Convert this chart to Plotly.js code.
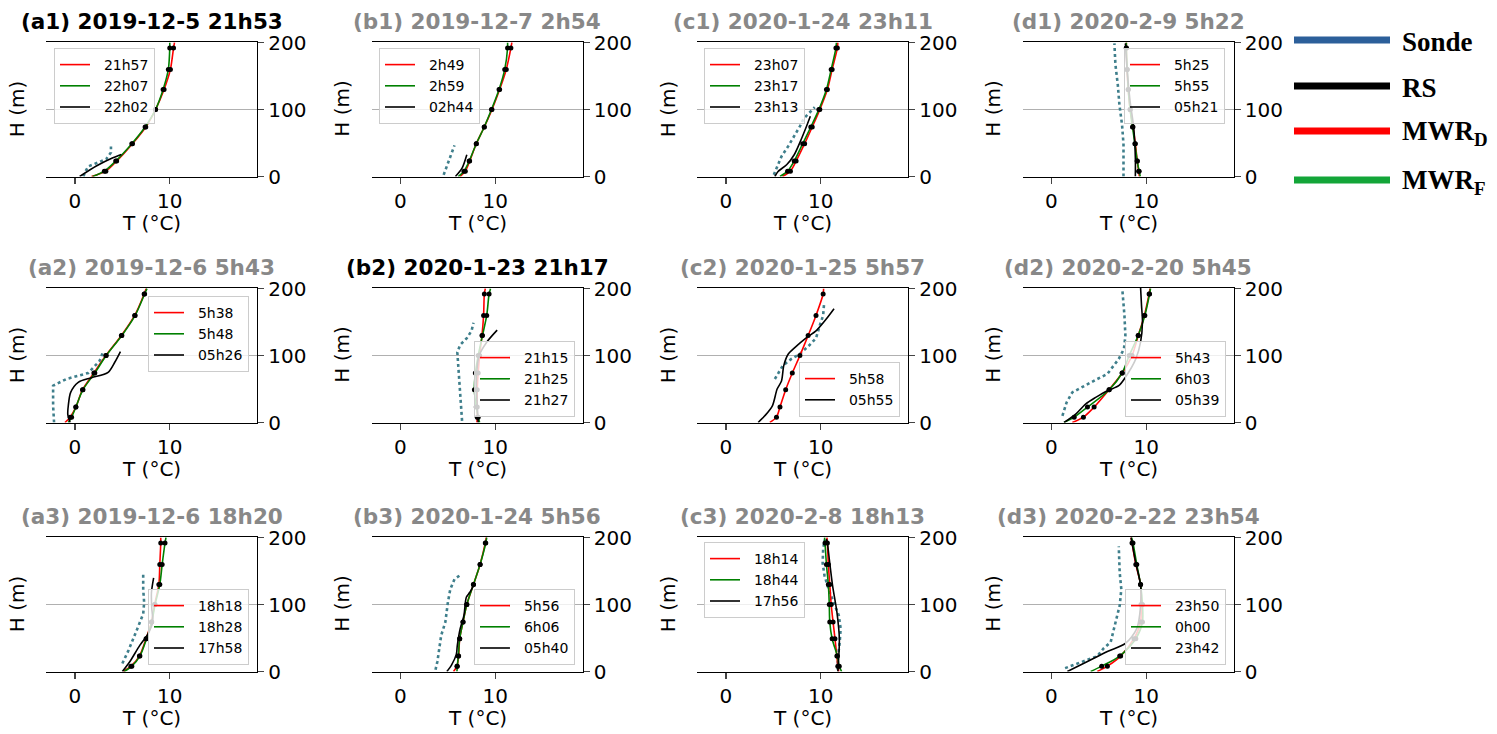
<!DOCTYPE html>
<html><head><meta charset="utf-8">
<script src="https://cdn.plot.ly/plotly-3.0.1.min.js"></script>
<style>html,body{margin:0;padding:0;background:#fff;} #chart{width:1497px;height:734px;}</style>
</head><body><div id="chart"></div>
<script>
// ---------------- DATA ----------------
const H_MWR = [0, 8, 23, 49, 74, 100, 130, 160, 192, 200];

const a1_title = "(a1) 2019-12-5 21h53";
const a1_labels = ["21h57", "22h07", "22h02"];
const a1_mwrD = [1.75, 3.26, 4.4, 6.07, 7.47, 8.5, 9.4, 10.07, 10.4, 10.5];
const a1_mwrF = [1.86, 3.1, 4.3, 6.0, 7.4, 8.5, 9.3, 9.85, 10.0, 10.0];
const a1_rsT = [0.5, 2.3, 4.0, 4.9];
const a1_rsH = [0, 16, 28, 33];
const a1_sondeT = [0.9, 1.05, 1.4, 3.3, 3.8, 3.8];
const a1_sondeH = [0, 6, 15, 26, 36, 45];

const b1_title = "(b1) 2019-12-7 2h54";
const b1_labels = ["2h49", "2h59", "02h44"];
const b1_mwrD = [6.3, 6.84, 7.3, 8.0, 8.84, 9.65, 10.46, 11.16, 11.65, 11.75];
const b1_mwrF = [6.1, 6.7, 7.25, 8.0, 8.84, 9.6, 10.4, 11.0, 11.3, 11.3];
const b1_rsT = [5.8, 6.5, 7.0];
const b1_rsH = [0, 12.5, 32.5];
const b1_sondeT = [4.56, 5.1, 5.4, 5.7];
const b1_sondeH = [2.5, 22.5, 35, 46.5];

const c1_title = "(c1) 2020-1-24 23h11";
const c1_labels = ["23h07", "23h17", "23h13"];
const c1_mwrD = [5.96, 6.8, 7.4, 8.3, 9.1, 9.9, 10.7, 11.2, 11.75, 11.8];
const c1_mwrF = [5.7, 6.5, 7.2, 8.1, 8.95, 9.8, 10.6, 11.1, 11.6, 11.65];
const c1_rsT = [5.16, 5.5, 6.4, 7.2, 8.0, 8.5, 8.9];
const c1_rsH = [0, 7.5, 17.5, 32.5, 57.5, 75, 90];
const c1_sondeT = [5.05, 5.4, 5.86, 6.56, 7.44, 7.8, 8.2, 9.37];
const c1_sondeH = [2.5, 15, 30, 45, 65, 75, 86.5, 103.5];

const d1_title = "(d1) 2020-2-9 5h22";
const d1_labels = ["5h25", "5h55", "05h21"];
const d1_mwrD = [9.27, 9.2, 9.05, 8.85, 8.6, 8.3, 8.1, 7.97, 7.9, 7.9];
const d1_mwrF = [9.37, 9.25, 9.05, 8.8, 8.55, 8.3, 8.1, 8.0, 7.9, 7.9];
const d1_rsT = [8.85, 8.85, 8.67, 8.3, 7.97, 7.8];
const d1_rsH = [0, 28, 74, 112, 162, 199];
const d1_sondeT = [7.6, 7.6, 7.45, 7.17, 7.0, 6.75, 6.64];
const d1_sondeH = [0, 48, 77, 107, 137, 167, 199];

const a2_title = "(a2) 2019-12-6 5h43";
const a2_labels = ["5h38", "5h48", "05h26"];
const a2_mwrD = [-1.05, -0.5, 0.1, 0.8, 2.0, 3.26, 4.9, 6.3, 7.3, 7.5];
const a2_mwrF = [-0.7, -0.35, 0.1, 0.85, 2.1, 3.3, 4.95, 6.35, 7.35, 7.6];
const a2_rsT = [-0.5, -0.75, -0.7, -0.45, 0.35, 1.75, 3.5, 4.2, 4.8];
const a2_rsH = [0, 12, 25, 45, 60, 67, 75, 90, 106];
const a2_sondeT = [-2.2, -2.3, -2.3, -0.9, 1.4, 2.6, 3.0];
const a2_sondeH = [0, 25, 55, 65, 74, 92, 107];

const b2_title = "(b2) 2020-1-23 21h17";
const b2_labels = ["21h15", "21h25", "21h27"];
const b2_mwrD = [8.07, 8.1, 8.1, 8.1, 8.2, 8.35, 8.6, 8.77, 8.85, 8.95];
const b2_mwrF = [8.35, 8.2, 8.0, 7.8, 7.9, 8.2, 8.65, 9.1, 9.35, 9.5];
const b2_rsT = [8.2, 8.1, 8.0, 8.3, 9.1, 10.2];
const b2_rsH = [0, 25, 60, 100, 120, 138];
const b2_sondeT = [6.5, 6.4, 6.25, 6.14, 6.0, 6.3, 7.0, 7.5, 7.7];
const b2_sondeH = [2.5, 25, 55, 80, 105, 116, 126, 137, 149];

const c2_title = "(c2) 2020-1-25 5h57";
const c2_labels = ["5h58", null, "05h55"];
const c2_mwrD = [4.63, 5.33, 5.7, 6.3, 7.0, 7.8, 8.67, 9.5, 10.25, 10.3];
const c2_mwrF = null;
const c2_rsT = [3.4, 4.1, 4.9, 5.4, 5.86, 6.1, 6.56, 7.26, 8.5, 9.5, 10.6, 11.4];
const c2_rsH = [0, 10, 25, 50, 62, 85, 102, 112, 127, 137, 155, 170];
const c2_sondeT = [5.16, 5.6, 6.0, 6.9, 7.8, 8.77, 9.5, 9.9, 10.25, 10.35];
const c2_sondeH = [65, 76, 85, 95, 102.5, 115, 126, 145, 160, 177.5];

const d2_title = "(d2) 2020-2-20 5h45";
const d2_labels = ["5h43", "6h03", "05h39"];
const d2_mwrD = [2.2, 3.37, 4.5, 6.07, 7.47, 8.5, 9.16, 9.8, 10.3, 10.4];
const d2_mwrF = [1.33, 2.4, 3.8, 6.1, 7.45, 8.2, 9.15, 9.85, 10.35, 10.45];
const d2_rsT = [1.33, 2.56, 3.6, 4.67, 5.9, 7.1, 7.8, 8.9, 9.4, 9.6, 9.5, 9.4];
const d2_rsH = [0, 12.5, 27.5, 37.5, 47.5, 55, 67.5, 95, 120, 150, 175, 202];
const d2_sondeT = [1.16, 1.6, 2.2, 3.44, 4.84, 5.9, 6.6, 7.1, 7.65, 7.8, 7.7, 7.54, 7.47];
const d2_sondeH = [10, 30, 45, 55, 65, 72.5, 85, 95, 110, 130, 160, 185, 200];

const a3_title = "(a3) 2019-12-6 18h20";
const a3_labels = ["18h18", "18h28", "17h58"];
const a3_mwrD = [5.1, 5.9, 6.8, 7.5, 8.07, 8.4, 8.85, 8.95, 9.05, 9.05];
const a3_mwrF = [5.2, 6.0, 6.85, 7.55, 8.1, 8.45, 8.95, 9.2, 9.5, 9.6];
const a3_rsT = [5.0, 5.8, 6.84, 7.7, 8.2, 8.1, 8.07, 8.3];
const a3_rsH = [0, 15, 39, 56, 74, 95, 118, 140];
const a3_sondeT = [5.0, 5.6, 6.3, 6.84, 7.2, 7.3, 7.2, 7.2];
const a3_sondeH = [12, 30, 54, 74, 86, 103, 123, 145];

const b3_title = "(b3) 2020-1-24 5h56";
const b3_labels = ["5h56", "6h06", "05h40"];
const b3_mwrD = [5.6, 5.96, 6.14, 6.25, 6.6, 7.0, 7.7, 8.4, 8.95, 9.05];
const b3_mwrF = [5.96, 6.0, 6.1, 6.25, 6.6, 7.0, 7.7, 8.4, 9.0, 9.1];
const b3_rsT = [4.9, 5.4, 5.9, 6.0, 6.3, 6.7, 6.95, 7.3, 7.7];
const b3_rsH = [0, 10, 26, 39, 64, 84, 111, 118, 128];
const b3_sondeT = [3.7, 3.9, 4.3, 4.74, 5.0, 5.26, 5.7, 6.3];
const b3_sondeH = [2.5, 15, 54, 74, 103, 123, 138, 144];

const c3_title = "(c3) 2020-2-8 18h13";
const c3_labels = ["18h14", "18h44", "17h56"];
const c3_mwrD = [11.9, 11.8, 11.7, 11.5, 11.3, 11.1, 10.95, 10.8, 10.7, 10.65];
const c3_mwrF = [12.2, 11.95, 11.75, 11.2, 10.95, 10.9, 10.8, 10.6, 10.45, 10.4];
const c3_rsT = [11.8, 11.96, 11.7, 11.25, 10.95, 10.7, 10.6];
const c3_rsH = [0, 49, 89, 128, 162, 192, 198];
const c3_sondeT = [11.8, 11.8, 12.0, 12.1, 11.9, 10.95, 10.4, 10.2, 10.25, 10.4];
const c3_sondeH = [2.5, 20, 44, 64, 84, 118, 143, 162, 182, 197];

const d3_title = "(d3) 2020-2-22 23h54";
const d3_labels = ["23h50", "0h00", "23h42"];
const d3_mwrD = [4.84, 5.9, 7.3, 8.7, 9.4, 9.45, 9.4, 8.9, 8.5, 8.4];
const d3_mwrF = [4.14, 5.3, 7.2, 8.9, 9.6, 9.6, 9.4, 9.0, 8.6, 8.46];
const d3_rsT = [1.68, 3.8, 5.9, 7.8, 9.0, 9.4, 9.4, 8.9, 8.5, 8.4];
const d3_rsH = [0, 15, 30, 42, 64, 98, 129, 162, 192, 200];
const d3_sondeT = [1.44, 3.44, 4.84, 5.5, 6.25, 6.77, 7.2, 7.37, 7.2, 7.1];
const d3_sondeH = [5, 15, 23, 34.5, 44, 74, 98.5, 123, 148, 187];

const highlightedTitles = ["a1", "b2"];
const xTicks = [0, 10];
const yTicks = [0, 100, 200];
const legendNames = ["Sonde", "RS", "MWR<sub>D</sub>", "MWR<sub>F</sub>"];

// ---------------- PANEL TABLE ----------------
const panels = [
  {id:"a1", title:a1_title, labels:a1_labels, d:a1_mwrD, f:a1_mwrF, rsT:a1_rsT, rsH:a1_rsH, sT:a1_sondeT, sH:a1_sondeH},
  {id:"b1", title:b1_title, labels:b1_labels, d:b1_mwrD, f:b1_mwrF, rsT:b1_rsT, rsH:b1_rsH, sT:b1_sondeT, sH:b1_sondeH},
  {id:"c1", title:c1_title, labels:c1_labels, d:c1_mwrD, f:c1_mwrF, rsT:c1_rsT, rsH:c1_rsH, sT:c1_sondeT, sH:c1_sondeH},
  {id:"d1", title:d1_title, labels:d1_labels, d:d1_mwrD, f:d1_mwrF, rsT:d1_rsT, rsH:d1_rsH, sT:d1_sondeT, sH:d1_sondeH},
  {id:"a2", title:a2_title, labels:a2_labels, d:a2_mwrD, f:a2_mwrF, rsT:a2_rsT, rsH:a2_rsH, sT:a2_sondeT, sH:a2_sondeH},
  {id:"b2", title:b2_title, labels:b2_labels, d:b2_mwrD, f:b2_mwrF, rsT:b2_rsT, rsH:b2_rsH, sT:b2_sondeT, sH:b2_sondeH},
  {id:"c2", title:c2_title, labels:c2_labels, d:c2_mwrD, f:c2_mwrF, rsT:c2_rsT, rsH:c2_rsH, sT:c2_sondeT, sH:c2_sondeH},
  {id:"d2", title:d2_title, labels:d2_labels, d:d2_mwrD, f:d2_mwrF, rsT:d2_rsT, rsH:d2_rsH, sT:d2_sondeT, sH:d2_sondeH},
  {id:"a3", title:a3_title, labels:a3_labels, d:a3_mwrD, f:a3_mwrF, rsT:a3_rsT, rsH:a3_rsH, sT:a3_sondeT, sH:a3_sondeH},
  {id:"b3", title:b3_title, labels:b3_labels, d:b3_mwrD, f:b3_mwrF, rsT:b3_rsT, rsH:b3_rsH, sT:b3_sondeT, sH:b3_sondeH},
  {id:"c3", title:c3_title, labels:c3_labels, d:c3_mwrD, f:c3_mwrF, rsT:c3_rsT, rsH:c3_rsH, sT:c3_sondeT, sH:c3_sondeH},
  {id:"d3", title:d3_title, labels:d3_labels, d:d3_mwrD, f:d3_mwrF, rsT:d3_rsT, rsH:d3_rsH, sT:d3_sondeT, sH:d3_sondeH}
];

// ---------------- LAYOUT GEOMETRY (pixels) ----------------
const W = 1497, HT = 734;
const colLeft = [46, 371.5, 697, 1022.5], colW = 211;
const rowTop = [42, 288, 537], rowH = 134.5;
const px = x => x / W, py = y => 1 - y / HT;
// legend placement: [x px, y px, xanchor, yanchor]
const legendPlace = {
  a1:[54,48,"left","top"], b1:[379,48,"left","top"], c1:[704,48,"left","top"], d1:[1225,48,"right","top"],
  a2:[249,296,"right","top"], b2:[575,417,"right","bottom"], c2:[900,417,"right","bottom"], d2:[1226,417,"right","bottom"],
  a3:[249,665,"right","bottom"], b3:[575,665,"right","bottom"], c3:[704,542,"left","top"], d3:[1226,665,"right","bottom"]
};

const FONT = "DejaVu Sans, sans-serif";
const NB = "\u00a0\u00a0";
const data = [];
const layout = {
  width: W, height: HT, margin:{l:0,r:0,t:0,b:0},
  paper_bgcolor:"#fff", plot_bgcolor:"#fff",
  font:{family:FONT, size:20, color:"#000"},
  showlegend:true, annotations:[], shapes:[]
};

panels.forEach((p, k) => {
  const n = k + 1, sfx = n === 1 ? "" : String(n);
  const col = k % 4, row = Math.floor(k / 4);
  const xa = "x" + sfx, ya = "y" + sfx;
  const legId = "legend" + sfx;
  const L = colLeft[col], T = rowTop[row];

  // sonde
  data.push({x:p.sT, y:p.sH, xaxis:xa, yaxis:ya, mode:"lines", showlegend:false,
    line:{color:"#3f7f8c", width:2.6, dash:"dot"}, hoverinfo:"skip"});
  // MWR D
  data.push({x:p.d, y:H_MWR, xaxis:xa, yaxis:ya, mode:"lines", name:NB + p.labels[0], legend:legId,
    line:{color:"#ff0000", width:1.6, shape:"spline", smoothing:0.8}});
  // MWR F
  if (p.f) data.push({x:p.f, y:H_MWR, xaxis:xa, yaxis:ya, mode:"lines", name:NB + p.labels[1], legend:legId,
    line:{color:"#008000", width:1.6, shape:"spline", smoothing:0.8}});
  // RS
  data.push({x:p.rsT, y:p.rsH, xaxis:xa, yaxis:ya, mode:"lines", name:NB + p.labels[2], legend:legId,
    line:{color:"#000", width:1.6, shape:"spline", smoothing:0.8}});
  // MWR level dots
  const dx = p.d.slice(1, -1).concat(p.f ? p.f.slice(1, -1) : []);
  const dy = H_MWR.slice(1, -1).concat(p.f ? H_MWR.slice(1, -1) : []);
  data.push({x:dx, y:dy, xaxis:xa, yaxis:ya, mode:"markers", showlegend:false,
    marker:{color:"#000", size:5}, hoverinfo:"skip"});

  layout["xaxis" + sfx] = {
    domain:[px(L), px(L + colW)], anchor:ya, range:[-3.05, 19.2],
    tickvals:xTicks, ticktext:xTicks.map(String), ticks:"outside", ticklen:6, tickwidth:1.2,
    showline:true, mirror:true, linecolor:"#000", linewidth:1.2,
    showgrid:false, zeroline:false, tickfont:{size:20, color:"#000"}, fixedrange:true
  };
  layout["yaxis" + sfx] = {
    domain:[py(T + rowH), py(T)], anchor:xa, side:"right", range:[0, 201],
    tickvals:yTicks, ticktext:yTicks.map(String), ticks:"outside", ticklen:6, tickwidth:1.2,
    showline:true, linecolor:"#000", linewidth:1.2,
    showgrid:true, gridcolor:"#b0b0b0", gridwidth:1, zeroline:false,
    tickfont:{size:20, color:"#000"}, fixedrange:true
  };
  const minorVals = []; for (let h = 0; h <= 200; h += 10) minorVals.push(h);
  layout["yaxis" + (12 + n)] = {
    overlaying:ya, anchor:xa, side:"left", range:[0, 201],
    tickvals:minorVals, ticks:"outside", ticklen:4, tickwidth:1,
    showticklabels:false, showline:true, linecolor:"#000", linewidth:1.2,
    showgrid:false, zeroline:false, fixedrange:true
  };

  const lp = legendPlace[p.id];
  layout[legId] = {
    x:px(lp[0]), y:py(lp[1]), xanchor:lp[2], yanchor:lp[3],
    bgcolor:"rgba(255,255,255,0.8)", bordercolor:"#cccccc", borderwidth:1,
    font:{family:FONT, size:14, color:"#000"}, itemwidth:30, tracegroupgap:0, traceorder:"normal"
  };

  // panel title
  layout.annotations.push({xref:"paper", yref:"paper", x:px(L + colW / 2), y:py(T - 20.5),
    xanchor:"center", yanchor:"middle", showarrow:false,
    text:"<b>" + p.title + "</b>",
    font:{family:FONT, size:21.5, color: highlightedTitles.includes(p.id) ? "#000" : "#888888"}});
  // x title
  layout.annotations.push({xref:"paper", yref:"paper", x:px(L + colW / 2), y:py(T + rowH + 46),
    xanchor:"center", yanchor:"middle", showarrow:false, text:"T (°C)",
    font:{family:FONT, size:20, color:"#000"}});
  // y title
  layout.annotations.push({xref:"paper", yref:"paper", x:px(L - 29), y:py(T + rowH / 2),
    xanchor:"center", yanchor:"middle", showarrow:false, text:"H (m)", textangle:-90,
    font:{family:FONT, size:20, color:"#000"}});
});

// ---------------- OVERALL LEGEND (right) ----------------
const keyColors = ["#2c5f9a", "#000000", "#ff0000", "#13a538"];
const keyY = [40, 86, 131, 180];
legendNames.forEach((nm, i) => {
  layout.shapes.push({type:"line", xref:"paper", yref:"paper",
    x0:px(1294), x1:px(1390), y0:py(keyY[i]), y1:py(keyY[i]),
    line:{color:keyColors[i], width:7}});
  layout.annotations.push({xref:"paper", yref:"paper", x:px(1400), y:py(keyY[i] + 2),
    xanchor:"left", yanchor:"middle", showarrow:false, text:"<b>" + nm + "</b>",
    font:{family:"Liberation Serif, Times New Roman, serif", size:27, color:"#000"}});
});

Plotly.newPlot("chart", data, layout, {displayModeBar:false, staticPlot:true});
</script>
</body></html>
